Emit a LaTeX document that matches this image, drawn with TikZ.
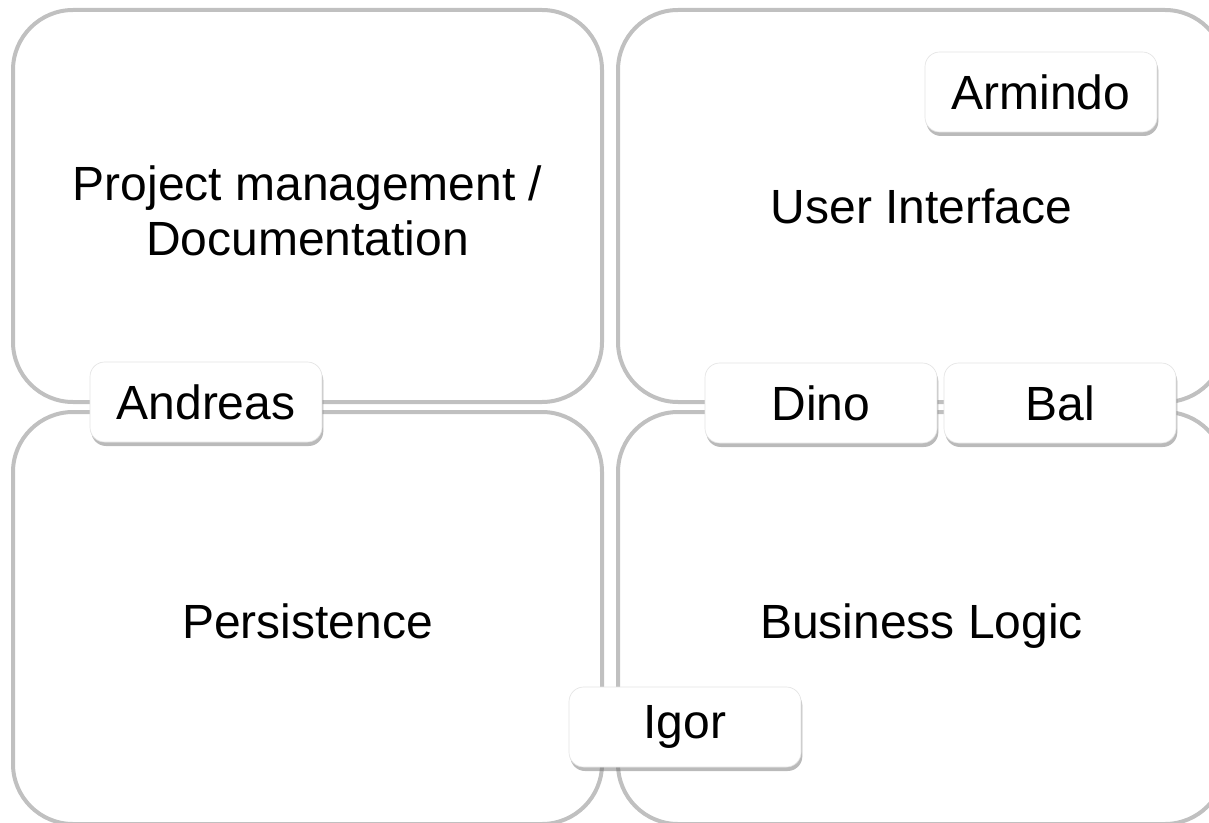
\documentclass[tikz,border=0pt]{standalone}
\usepackage{fontspec}
\setmainfont{Liberation Sans}
\usetikzlibrary{shadows,positioning}
\definecolor{framegray}{RGB}{192,192,192}
\definecolor{boxgray}{RGB}{228,228,228}
\tikzset{
area/.style={draw=framegray, line width=3pt, rounded corners=45pt, align=center, font=\fontsize{36}{41}\selectfont}, % the four big fields
person/.style={draw=boxgray, line width=0.5pt, fill=white, rounded corners=11pt, minimum width=174pt, minimum height=60pt, font=\fontsize{36}{41}\selectfont,
  drop shadow={shadow xshift=1pt, shadow yshift=-3pt, opacity=0.45, fill=black!60}}, % name tags
}
\begin{document}
\begin{tikzpicture}[x=0.75pt,y=0.75pt,yscale=-1,xscale=1]
\clip (0,0) rectangle (1209,823);
%Rounded Rect
\node [area, minimum width=441.75pt, minimum height=294pt] (pm) at (307.5,206) {\\[-8pt]Project management /\\ Documentation};
%Rounded Rect
\node [area, minimum width=455.25pt, minimum height=294pt] (ui) at (921.5,206) {User Interface};
%Rounded Rect
\node [area, minimum width=441.75pt, minimum height=309pt, text height=42pt, text depth=12pt] (pers) at (307.5,618) {Persistence};
%Rounded Rect
\node [area, minimum width=455.25pt, minimum height=309pt, text height=42pt, text depth=12pt] (bl) at (921.5,618) {Business Logic};
% name tags
\node [person] (andreas) at (206,402) {Andreas};
\node [person] (dino) at (821,403) {Dino};
\node [person] (bal) at (1060,403) {Bal};
\node [person] (igor) at (685,727) {Igor};
\node [person] (armindo) at (1041,92) {Armindo};
\end{tikzpicture}
\end{document}
